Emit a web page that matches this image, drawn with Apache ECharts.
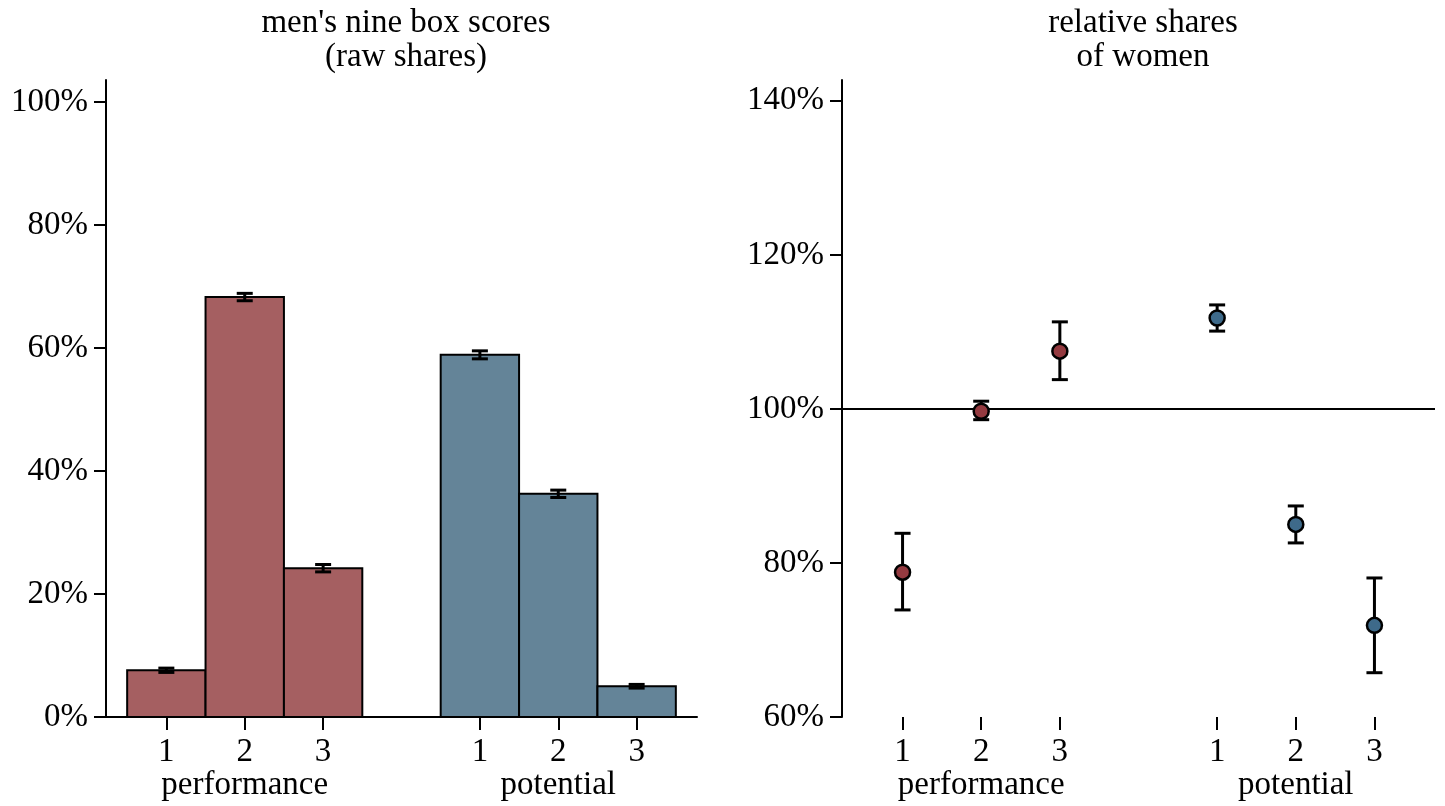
<!DOCTYPE html>
<html>
<head>
<meta charset="utf-8">
<script src="https://cdn.jsdelivr.net/npm/echarts@6/dist/echarts.min.js"></script>
<style>
html,body{margin:0;padding:0;background:#fff;}
#main{width:1445px;height:806px;}
</style>
</head>
<body>
<div id="main"></div>
<script>
// ---- data ----
const groupNames = ['performance', 'potential'];
const levelLabels = ['1', '2', '3'];
const perfPos = [0, 1, 2];
const potPos = [4, 5, 6];
// left panel: men's raw shares (%)
const menPerf = [7.6, 68.3, 24.2];
const menPerfErr = [0.35, 0.6, 0.6];
const menPot = [58.9, 36.3, 5.0];
const menPotErr = [0.65, 0.6, 0.3];
// right panel: relative shares of women (%)
const womPerf = [78.8, 99.7, 107.5];
const womPerfLo = [73.9, 98.6, 103.8];
const womPerfHi = [83.85, 101.0, 111.3];
const womPot = [111.8, 85.0, 71.9];
const womPotLo = [110.1, 82.6, 65.75];
const womPotHi = [113.5, 87.4, 78.05];
const leftTicks = [0, 20, 40, 60, 80, 100];
const rightTicks = [60, 80, 100, 120, 140];

const FONT = 'Liberation Serif';
const FS = 33;
const barRed = '#a55f61', barBlue = '#648498';
const ptRed = '#943a40', ptBlue = '#3e6a8a';

const allPos = perfPos.concat(potPos);
const posLabel = {};
allPos.forEach((p, i) => { posLabel[p] = levelLabels[i % 3]; });
const groupCenters = [perfPos[1], potPos[1]];
const groupLabel = {};
groupCenters.forEach((p, i) => { groupLabel[p] = groupNames[i]; });

function barData(pos, vals, errs, color) {
  return pos.map((p, i) => [p, vals[i], vals[i] - errs[i], vals[i] + errs[i], color]);
}
const barsAll = barData(perfPos, menPerf, menPerfErr, barRed).concat(barData(potPos, menPot, menPotErr, barBlue));
function ptData(pos, vals, lo, hi, color) {
  return pos.map((p, i) => [p, vals[i], lo[i], hi[i], color]);
}
const ptsAll = ptData(perfPos, womPerf, womPerfLo, womPerfHi, ptRed).concat(ptData(potPos, womPot, womPotLo, womPotHi, ptBlue));

const xmin = -0.77, xmax = 6.77;

function xAxisLevels(gridIndex, showLine) {
  return {
    type: 'value', gridIndex: gridIndex, min: xmin, max: xmax,
    axisLine: { show: showLine, onZero: false, lineStyle: { color: '#000', width: 2 } },
    axisTick: { show: true, length: 13, customValues: allPos, lineStyle: { color: '#000', width: 2 } },
    axisLabel: { customValues: allPos, formatter: v => posLabel[Math.round(v)] || '', margin: 19,
      fontFamily: FONT, fontSize: FS, color: '#000' },
    splitLine: { show: false }
  };
}
function xAxisGroups(gridIndex) {
  return {
    type: 'value', gridIndex: gridIndex, min: xmin, max: xmax, position: 'bottom',
    axisLine: { show: false, onZero: false }, axisTick: { show: false },
    axisLabel: { customValues: groupCenters, formatter: v => groupLabel[Math.round(v)] || '', margin: 52,
      fontFamily: FONT, fontSize: FS, color: '#000' },
    splitLine: { show: false }
  };
}
function yAxis(gridIndex, min, max, ticks) {
  return {
    type: 'value', gridIndex: gridIndex, min: min, max: max,
    axisLine: { show: true, onZero: false, lineStyle: { color: '#000', width: 2 } },
    axisTick: { show: true, length: 12, customValues: ticks, lineStyle: { color: '#000', width: 2 } },
    axisLabel: { customValues: ticks, formatter: v => v + '%', margin: 18,
      fontFamily: FONT, fontSize: FS, color: '#000' },
    splitLine: { show: false }
  };
}

const option = {
  animation: false,
  backgroundColor: '#fff',
  title: [
    { text: "men's nine box scores\n(raw shares)", left: 401, top: 1, textAlign: 'center',
      textStyle: { fontFamily: FONT, fontSize: FS, fontWeight: 'normal', color: '#000', lineHeight: 34 } },
    { text: 'relative shares\nof women', left: 1138, top: 1, textAlign: 'center',
      textStyle: { fontFamily: FONT, fontSize: FS, fontWeight: 'normal', color: '#000', lineHeight: 34 } }
  ],
  grid: [
    { left: 106, right: 748, top: 80, bottom: 89 },
    { left: 842, right: 10, top: 80, bottom: 89 }
  ],
  xAxis: [xAxisLevels(0, true), xAxisGroups(0), xAxisLevels(1, false), xAxisGroups(1)],
  yAxis: [yAxis(0, 0, 103.6, leftTicks), yAxis(1, 60, 142.7, rightTicks)],
  series: [
    {
      type: 'custom', xAxisIndex: 0, yAxisIndex: 0, data: barsAll,
      renderItem: function (params, api) {
        const x = api.value(0), y = api.value(1);
        const w = api.size([1, 0])[0];
        const top = api.coord([x, y]);
        const base = api.coord([x, 0]);
        const lo = api.coord([x, api.value(2)]);
        const hi = api.coord([x, api.value(3)]);
        const color = barsAll[params.dataIndex][4];
        const cw = 8;
        return {
          type: 'group', children: [
            { type: 'rect', shape: { x: top[0] - w / 2, y: top[1], width: w, height: base[1] - top[1] },
              style: { fill: color, stroke: '#000', lineWidth: 2 } },
            { type: 'line', shape: { x1: lo[0], y1: lo[1], x2: hi[0], y2: hi[1] }, style: { stroke: '#000', lineWidth: 3 } },
            { type: 'line', shape: { x1: lo[0] - cw, y1: lo[1], x2: lo[0] + cw, y2: lo[1] }, style: { stroke: '#000', lineWidth: 3 } },
            { type: 'line', shape: { x1: hi[0] - cw, y1: hi[1], x2: hi[0] + cw, y2: hi[1] }, style: { stroke: '#000', lineWidth: 3 } }
          ]
        };
      }
    },
    {
      type: 'line', xAxisIndex: 2, yAxisIndex: 1, data: [],
      markLine: { silent: true, symbol: 'none', label: { show: false },
        lineStyle: { color: '#000', width: 2, type: 'solid' }, data: [{ yAxis: 100 }] }
    },
    {
      type: 'custom', xAxisIndex: 2, yAxisIndex: 1, data: ptsAll, z: 5,
      renderItem: function (params, api) {
        const x = api.value(0);
        const c = api.coord([x, api.value(1)]);
        const lo = api.coord([x, api.value(2)]);
        const hi = api.coord([x, api.value(3)]);
        const color = ptsAll[params.dataIndex][4];
        const cw = 8;
        return {
          type: 'group', children: [
            { type: 'line', shape: { x1: lo[0], y1: lo[1], x2: hi[0], y2: hi[1] }, style: { stroke: '#000', lineWidth: 3 } },
            { type: 'line', shape: { x1: lo[0] - cw, y1: lo[1], x2: lo[0] + cw, y2: lo[1] }, style: { stroke: '#000', lineWidth: 3 } },
            { type: 'line', shape: { x1: hi[0] - cw, y1: hi[1], x2: hi[0] + cw, y2: hi[1] }, style: { stroke: '#000', lineWidth: 3 } },
            { type: 'circle', shape: { cx: c[0], cy: c[1], r: 7.5 }, style: { fill: color, stroke: '#000', lineWidth: 2.5 } }
          ]
        };
      }
    }
  ]
};
const chart = echarts.init(document.getElementById('main'), null, { renderer: 'canvas' });
chart.setOption(option);
</script>
</body>
</html>
